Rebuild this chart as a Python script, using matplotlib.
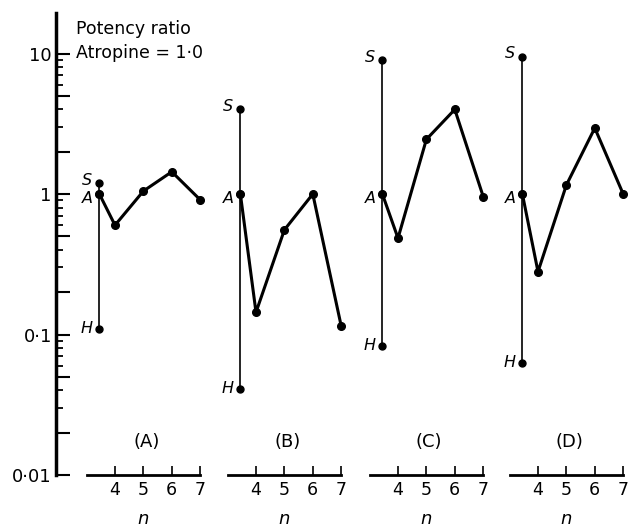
import matplotlib
matplotlib.use("Agg")  # no display, just write the png
import matplotlib.pyplot as plt
from matplotlib.ticker import LogLocator, FuncFormatter, FixedLocator, NullFormatter
from matplotlib.transforms import blended_transform_factory

plt.rcParams["font.family"] = ["DejaVu Sans"]

# --- data (potency ratio, atropine = 1.0) ---
panel_names = ["(A)", "(B)", "(C)", "(D)"]
n_values = [4, 5, 6, 7]
ref_n = 3.45  # where the S / A / H reference column sits on each n axis
s_ratio = [1.2, 4.0, 9.0, 9.5]
a_ratio = [1.0, 1.0, 1.0, 1.0]
h_ratio = [0.11, 0.041, 0.083, 0.063]
series_ratio = [
    [0.60, 1.05, 1.44, 0.91],
    [0.144, 0.556, 1.0, 0.115],
    [0.485, 2.45, 4.0, 0.96],
    [0.28, 1.16, 2.95, 1.0],
]
y_labels = {10: "10", 1: "1", 0.1: "0·1", 0.01: "0·01"}

# --- layout (pixels of a 629x529 figure) ---
W, H = 629, 529
fig = plt.figure(figsize=(W / 100, H / 100), dpi=100)

px_per_n = 28.4
n4_px = [115, 256, 398, 538]
y_bot_px, y_top_px = 475, 12.8
ylo, yhi = 0.01, 19.5
x_hi = 7.15


def add_panel(i, x_lo):
    left = n4_px[i] - (4 - x_lo) * px_per_n
    width = (x_hi - x_lo) * px_per_n
    ax = fig.add_axes([left / W, (H - y_bot_px) / H, width / W, (y_bot_px - y_top_px) / H])
    ax.set_facecolor("none")
    ax.set_yscale("log")
    ax.set_ylim(ylo, yhi)
    ax.set_xlim(x_lo, x_hi)
    return ax


axes = [add_panel(0, 1.92)] + [add_panel(i, 2.6) for i in range(1, 4)]

for i, ax in enumerate(axes):
    for side in ["top", "right"]:
        ax.spines[side].set_visible(False)
    ax.spines["bottom"].set_bounds(3, 7)
    ax.spines["bottom"].set_linewidth(2)
    ax.xaxis.set_major_locator(FixedLocator(n_values))
    ax.tick_params(axis="x", direction="in", length=6.5, width=1.2, pad=4, labelsize=12.5)
    ax.set_xlabel("n", fontsize=13, style="italic")
    ax.xaxis.set_label_coords(5, -0.075, transform=blended_transform_factory(ax.transData, ax.transAxes))

    if i == 0:
        ax.spines["left"].set_linewidth(2.5)
        ax.yaxis.set_major_locator(LogLocator(base=10, subs=(1, 2, 5)))
        ax.yaxis.set_minor_locator(LogLocator(base=10, subs=(3, 4, 6, 7, 8, 9)))
        ax.yaxis.set_major_formatter(
            FuncFormatter(lambda v, pos: next((t for k, t in y_labels.items() if abs(v - k) < 1e-9), ""))
        )
        ax.yaxis.set_minor_formatter(NullFormatter())
        ax.tick_params(axis="y", which="major", direction="in", length=10, width=1.5, pad=3, labelsize=13)
        ax.tick_params(axis="y", which="minor", direction="in", length=5, width=1.3)
    else:
        ax.spines["left"].set_visible(False)
        ax.tick_params(axis="y", which="both", left=False, labelleft=False)

    # S - A - H reference column
    ax.plot([ref_n, ref_n, ref_n], [s_ratio[i], a_ratio[i], h_ratio[i]],
            color="black", lw=1.2, marker="o", ms=5, zorder=3)
    # potency vs chain length n, starting from the atropine point
    ax.plot([ref_n] + n_values, [a_ratio[i]] + series_ratio[i],
            color="black", lw=2.2, marker="o", ms=5.5, zorder=4)

    for lab, val, dy in [("S", s_ratio[i], 2), ("A", a_ratio[i], -3), ("H", h_ratio[i], 0)]:
        ax.annotate(lab, (ref_n, val), xytext=(-5, dy), textcoords="offset points",
                    ha="right", va="center", fontsize=11.5, style="italic")

    ax.text(5.1, 0.0172, panel_names[i], ha="center", va="center", fontsize=13)

fig.text(76 / W, 1 - 20 / H, "Potency ratio\nAtropine = 1·0", ha="left", va="top",
         fontsize=12.5, linespacing=1.45)

fig.savefig("out.png", dpi=100)
